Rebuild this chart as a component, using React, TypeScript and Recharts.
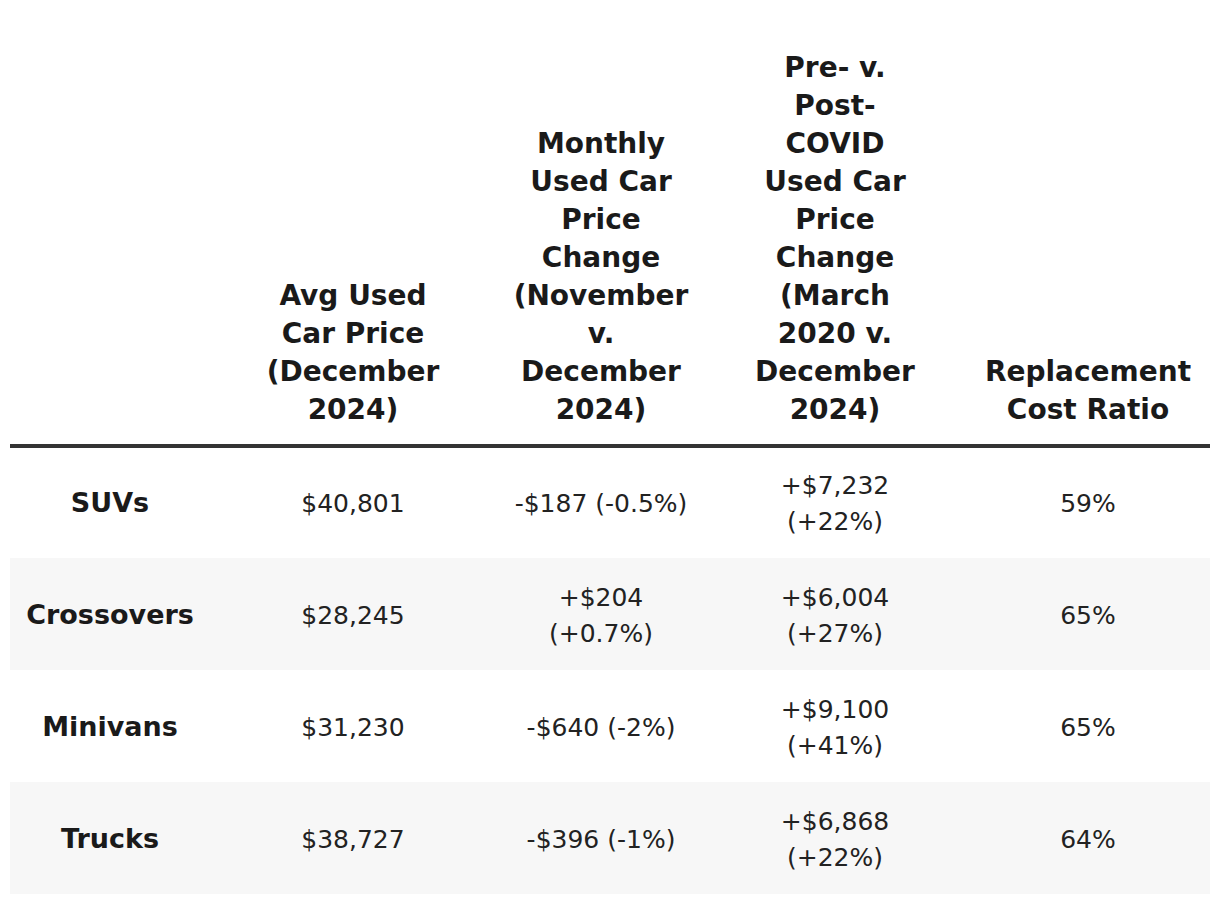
import React from "react";
import { ComposedChart, Bar, Cell, Scatter, XAxis, YAxis } from "recharts";

// table content
const vehicleTypes = ["SUVs", "Crossovers", "Minivans", "Trucks"];
const avgPrice = ["$40,801", "$28,245", "$31,230", "$38,727"];
const monthlyChange = [
  ["-$187 (-0.5%)"],
  ["+$204", "(+0.7%)"],
  ["-$640 (-2%)"],
  ["-$396 (-1%)"],
];
const covidChange = [
  ["+$7,232", "(+22%)"],
  ["+$6,004", "(+27%)"],
  ["+$9,100", "(+41%)"],
  ["+$6,868", "(+22%)"],
];
const costRatio = ["59%", "65%", "65%", "64%"];

const headers = [
  ["Avg Used", "Car Price", "(December", "2024)"],
  ["Monthly", "Used Car", "Price", "Change", "(November", "v.", "December", "2024)"],
  ["Pre- v.", "Post-", "COVID", "Used Car", "Price", "Change", "(March", "2020 v.", "December", "2024)"],
  ["Replacement", "Cost Ratio"],
];

// layout: column centres on a 0..1200 x scale
const TABLE_W = 1200;
const colX = [100, 343, 591, 825, 1078];
const FONT = "'DejaVu Sans', sans-serif";

const rows = vehicleTypes.map((type, i) => ({ type, band: TABLE_W, idx: i }));

const columnData = (vals: string[][]) =>
  vehicleTypes.map((type, i) => ({ type, lines: vals[i] }));

const columns = [
  { x: colX[0], data: columnData(vehicleTypes.map((v) => [v])), bold: true },
  { x: colX[1], data: columnData(avgPrice.map((v) => [v])), bold: false },
  { x: colX[2], data: columnData(monthlyChange), bold: false },
  { x: colX[3], data: columnData(covidChange), bold: false },
  { x: colX[4], data: columnData(costRatio.map((v) => [v])), bold: false },
];

function CellText(props: any) {
  const { cx, cy, payload, bold } = props;
  const lines: string[] = payload.lines;
  const lh = 36;
  const first = cy - ((lines.length - 1) * lh) / 2 + 10;
  return (
    <text
      textAnchor="middle"
      fontFamily={FONT}
      fontSize={bold ? 27 : 25}
      fontWeight={bold ? 700 : 400}
      fill={bold ? "#1a1a1a" : "#222"}
    >
      {lines.map((l, i) => (
        <tspan key={i} x={cx} y={first + i * lh}>
          {l}
        </tspan>
      ))}
    </text>
  );
}

function HeaderTick(props: any) {
  const { x, y, index } = props;
  const lines = headers[index] || [];
  const lh = 38;
  const last = y - 27;
  return (
    <text textAnchor="middle" fontFamily={FONT} fontSize={28} fontWeight={700} fill="#1a1a1a">
      {lines.map((l, i) => (
        <tspan key={i} x={x} y={last - (lines.length - 1 - i) * lh}>
          {l}
        </tspan>
      ))}
    </text>
  );
}

export default function App() {
  return (
    <div style={{ position: "absolute", left: 0, top: 0, width: 1220, height: 904, background: "#fff" }}>
      <ComposedChart
        width={1220}
        height={904}
        data={rows}
        layout="vertical"
        margin={{ top: 0, right: 10, bottom: 10, left: 10 }}
        barCategoryGap={0}
      >
        <XAxis
          type="number"
          dataKey="x"
          orientation="top"
          domain={[0, TABLE_W]}
          ticks={colX.slice(1)}
          interval={0}
          height={446}
          tickLine={false}
          tickSize={0}
          tickMargin={0}
          axisLine={{ stroke: "#333", strokeWidth: 4 }}
          tick={<HeaderTick />}
        />
        <YAxis type="category" dataKey="type" hide allowDuplicatedCategory={false} />
        <Bar dataKey="band" isAnimationActive={false}>
          {rows.map((r) => (
            <Cell key={r.type} fill={r.idx % 2 === 1 ? "#f7f7f7" : "#ffffff"} />
          ))}
        </Bar>
        {columns.map((c, ci) => (
          <Scatter
            key={ci}
            data={c.data.map((d) => ({ ...d, x: c.x }))}
            isAnimationActive={false}
            shape={(p: any) => <CellText {...p} bold={c.bold} />}
          />
        ))}
      </ComposedChart>
    </div>
  );
}
